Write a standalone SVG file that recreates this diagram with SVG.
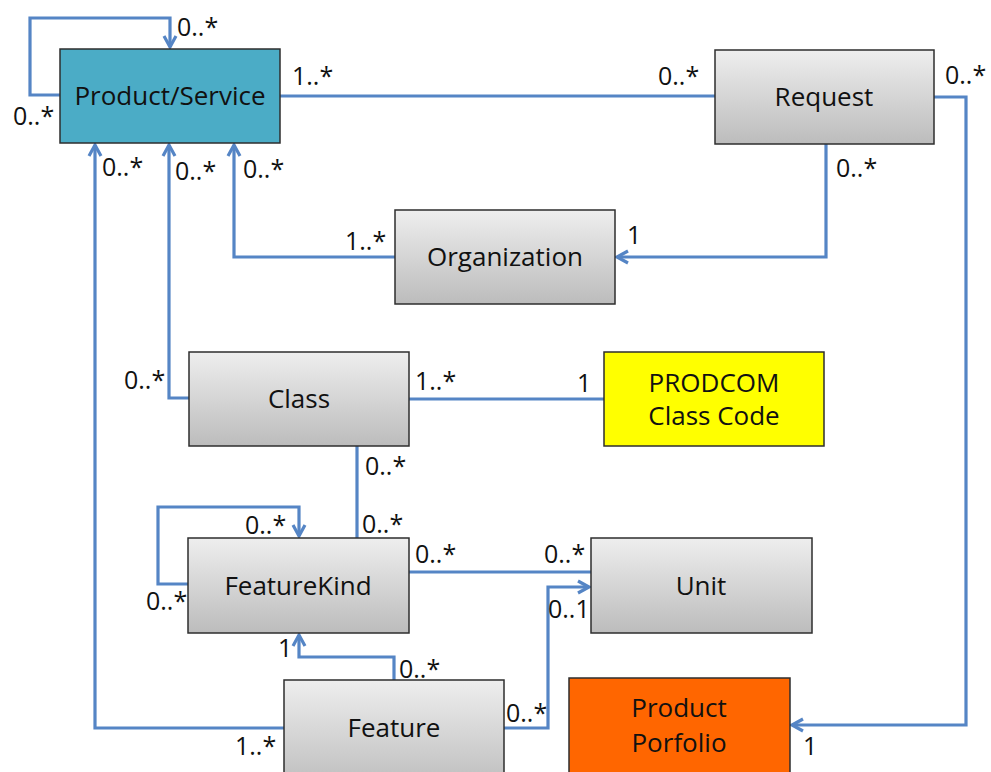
<svg xmlns="http://www.w3.org/2000/svg" width="991" height="772" viewBox="0 0 991 772">
<defs>
<linearGradient id="gray" x1="0" y1="0" x2="0" y2="1">
<stop offset="0" stop-color="#EEEEEE"/>
<stop offset="1" stop-color="#BCBCBC"/>
</linearGradient>
<marker id="arr" viewBox="0 0 16 16" refX="14" refY="8" markerWidth="16" markerHeight="16" markerUnits="userSpaceOnUse" orient="auto">
<path d="M3,2 L14,8 L3,14" fill="none" stroke="#5585C5" stroke-width="3.2" stroke-linejoin="miter"/>
</marker>
</defs>
<style>
.box{stroke:#2E2E2E;stroke-width:1.5}
.g{fill:url(#gray)}
.t{font-family:"Open Sans","Liberation Sans",sans-serif;font-size:26px;fill:#111;text-anchor:middle}
.l{font-family:"Open Sans","Liberation Sans",sans-serif;font-size:25px;fill:#111}
.c{fill:none;stroke:#5585C5;stroke-width:3.2}
</style>
<rect width="991" height="772" fill="#FFFFFF"/>
<g id="connectors">
<path class="c" d="M60,95 H30 V18 H170 V47" marker-end="url(#arr)"/>
<path class="c" d="M280,96 H715"/>
<path class="c" d="M934,97 H966 V725 H792" marker-end="url(#arr)"/>
<path class="c" d="M826,144 V257 H617" marker-end="url(#arr)"/>
<path class="c" d="M395,257 H234 V145" marker-end="url(#arr)"/>
<path class="c" d="M189,398 H169 V145" marker-end="url(#arr)"/>
<path class="c" d="M284,728 H95 V145" marker-end="url(#arr)"/>
<path class="c" d="M409,399 H604"/>
<path class="c" d="M357,446 V538"/>
<path class="c" d="M188,584 H158 V507 H299 V536" marker-end="url(#arr)"/>
<path class="c" d="M409,572 H591"/>
<path class="c" d="M504,728 H548 V587 H589" marker-end="url(#arr)"/>
<path class="c" d="M394,680 V657 H299 V635" marker-end="url(#arr)"/>
</g>
<g id="labels">
<text class="l" x="177" y="36">0..*</text>
<text class="l" x="13" y="125">0..*</text>
<text class="l" x="292" y="85">1..*</text>
<text class="l" x="658" y="85">0..*</text>
<text class="l" x="945" y="84">0..*</text>
<text class="l" x="836" y="177">0..*</text>
<text class="l" x="627" y="244">1</text>
<text class="l" x="345" y="250">1..*</text>
<text class="l" x="102" y="176">0..*</text>
<text class="l" x="175" y="180">0..*</text>
<text class="l" x="243" y="178">0..*</text>
<text class="l" x="124" y="389">0..*</text>
<text class="l" x="415" y="390">1..*</text>
<text class="l" x="577" y="392">1</text>
<text class="l" x="365" y="475">0..*</text>
<text class="l" x="362" y="533">0..*</text>
<text class="l" x="245" y="534">0..*</text>
<text class="l" x="146" y="610">0..*</text>
<text class="l" x="415" y="563">0..*</text>
<text class="l" x="544" y="563">0..*</text>
<text class="l" x="548" y="618">0..1</text>
<text class="l" x="278" y="657">1</text>
<text class="l" x="399" y="678">0..*</text>
<text class="l" x="506" y="722">0..*</text>
<text class="l" x="235" y="755">1..*</text>
<text class="l" x="803" y="755">1</text>
</g>
<g id="product-service">
<rect class="box" x="60" y="49" width="220" height="94" fill="#4BACC6"/>
<text class="t" x="170" y="105">Product/Service</text>
</g>
<g id="request">
<rect class="box g" x="715" y="50" width="219" height="94"/>
<text class="t" x="824" y="106">Request</text>
</g>
<g id="organization">
<rect class="box g" x="395" y="210" width="220" height="94"/>
<text class="t" x="505" y="266">Organization</text>
</g>
<g id="class">
<rect class="box g" x="189" y="352" width="220" height="94"/>
<text class="t" x="299" y="408">Class</text>
</g>
<g id="prodcom">
<rect class="box" x="604" y="352" width="220" height="94" fill="#FFFF00"/>
<text class="t" x="714" y="392">PRODCOM</text>
<text class="t" x="714" y="425">Class Code</text>
</g>
<g id="featurekind">
<rect class="box g" x="188" y="538" width="221" height="95"/>
<text class="t" x="298" y="595">FeatureKind</text>
</g>
<g id="unit">
<rect class="box g" x="591" y="538" width="221" height="95"/>
<text class="t" x="701" y="595">Unit</text>
</g>
<g id="feature">
<rect class="box g" x="284" y="680" width="220" height="110"/>
<text class="t" x="394" y="737">Feature</text>
</g>
<g id="product-porfolio">
<rect class="box" x="569" y="678" width="221" height="110" fill="#FF6600"/>
<text class="t" x="679" y="717">Product</text>
<text class="t" x="679" y="752">Porfolio</text>
</g>
</svg>
